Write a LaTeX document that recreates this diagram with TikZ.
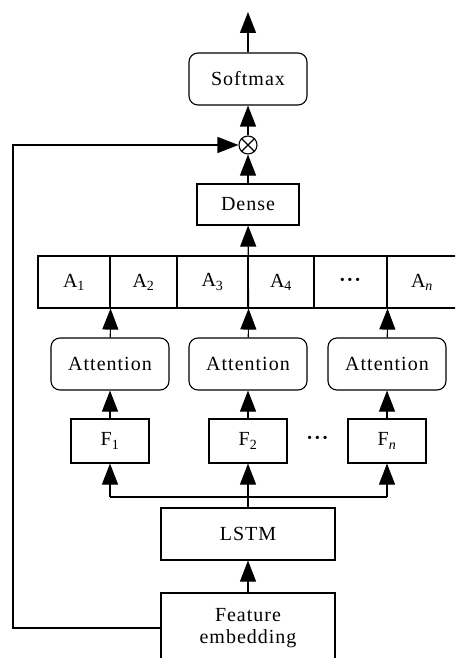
\documentclass[tikz,border=0pt]{standalone}
\usepackage{fontspec}
\setmainfont[LetterSpace=5]{Liberation Serif}
\usetikzlibrary{arrows.meta}
\begin{document}
\begin{tikzpicture}[x=1pt,y=-1pt,font=\fontsize{20}{22}\selectfont,line width=1.1pt,
  >={Triangle[width=16pt,length=21pt]}]
\tikzset{box/.style={draw,inner sep=0pt,minimum height=52pt},
rbox/.style={box,rounded corners=9pt,minimum width=118pt},
fbox/.style={box,minimum width=78pt,minimum height=44pt},
wide/.style={box,minimum width=174pt}}
\useasboundingbox (0,0) rectangle (455,658);
\clip (0,0) rectangle (455,658);
\node[rbox] (soft) at (248,79) {Softmax};
\coordinate (out) at (248,12);
\node[circle,draw,minimum size=18pt,inner sep=0pt] (mul) at (248,145) {};
\draw (mul.north west)--(mul.south east) (mul.north east)--(mul.south west);
\node[box,minimum width=102pt,minimum height=41pt] (dense) at (248,204.5) {Dense};
\foreach \l/\r/\t [count=\i] in {38/110/A\textsubscript{1},110/177/A\textsubscript{2},177/248/A\textsubscript{3},
  248/314/A\textsubscript{4},314/387/\textbf{···},387/457/A\textsubscript{\itshape n}}
  \node[box,minimum width={(\r-\l)*1pt}] (a\i) at ({(\l+\r)/2},282) {\t};
\foreach \x/\s [count=\i] in {110/1,248/2,387/{\itshape n}}{
  \node[rbox] (att\i) at (\x,364) {Attention};
  \node[fbox] (f\i) at (\x,441) {F\textsubscript{\s}};
  \draw[->] (f\i)--(att\i);}
\node (fdots) at (318,440) {\textbf{···}};
\node[wide] (lstm) at (248,534) {LSTM};
\node[wide,minimum height=70pt,align=center] (feat) at (248,628) {Feature\\embedding};
\coordinate (bus) at (248,497);
\coordinate (fb) at (13,628);
\draw[->] (feat)--(lstm);
\draw (lstm)--(bus);
\draw (bus -| f1)--(bus -| f3);
\foreach \i in {1,2,3}{\draw[->] (bus -| f\i)--(f\i);}
\draw[->] (att1)--(a1.south east);
\draw[->] (att2)--(a3.south east);
\draw[->] (att3)--(a5.south east);
\draw[->] (a3.south east)--(dense);
\draw[->] (dense)--(mul);
\draw[->] (mul)--(soft);
\draw[->] (soft)--(out);
\draw[->] (feat.west)--(fb)|-(mul);
\end{tikzpicture}
\end{document}
